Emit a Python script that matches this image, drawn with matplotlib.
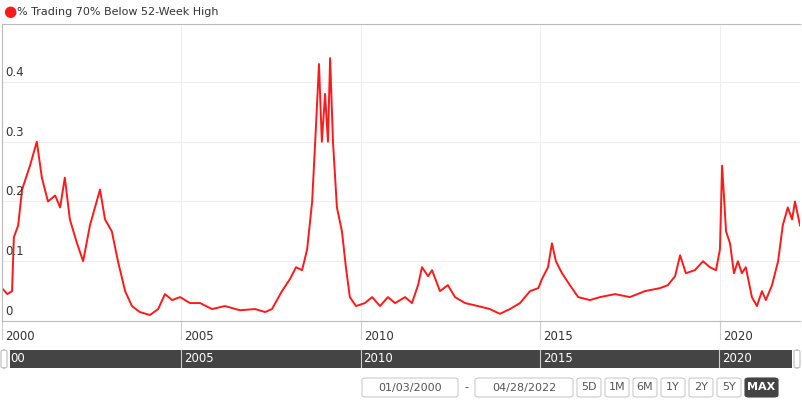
import matplotlib

matplotlib.use("Agg")
import matplotlib.pyplot as plt
from matplotlib.patches import FancyBboxPatch

W, H = 802, 401

# decimal year, share of stocks trading 70% below 52-week high
years = [
    2000.0, 2000.15, 2000.28, 2000.33, 2000.45, 2000.56, 2000.78, 2000.97, 2001.11, 2001.28,
    2001.48, 2001.62, 2001.75, 2001.89, 2002.09, 2002.26, 2002.45, 2002.73, 2002.87, 2003.06,
    2003.23, 2003.43, 2003.62, 2003.84, 2004.12, 2004.35, 2004.54, 2004.74, 2004.96, 2005.24,
    2005.52, 2005.85, 2006.21, 2006.63, 2007.05, 2007.33, 2007.52, 2007.80, 2008.02, 2008.19,
    2008.36, 2008.50, 2008.64, 2008.75, 2008.83, 2008.91, 2009.00, 2009.08, 2009.14, 2009.22,
    2009.33, 2009.47, 2009.58, 2009.69, 2009.86, 2010.11, 2010.31, 2010.53, 2010.75, 2010.95,
    2011.23, 2011.42, 2011.59, 2011.70, 2011.87, 2011.98, 2012.20, 2012.42, 2012.62, 2012.90,
    2013.26, 2013.59, 2013.87, 2014.15, 2014.43, 2014.71, 2014.94, 2015.04, 2015.21, 2015.32,
    2015.43, 2015.60, 2015.82, 2016.05, 2016.38, 2016.66, 2017.08, 2017.49, 2017.91, 2018.33,
    2018.55, 2018.75, 2018.89, 2019.05, 2019.30, 2019.53, 2019.72, 2019.89, 2020.00, 2020.06,
    2020.17, 2020.28, 2020.39, 2020.50, 2020.61, 2020.72, 2020.89, 2021.03, 2021.17, 2021.28,
    2021.45, 2021.62, 2021.75, 2021.89, 2022.01, 2022.09, 2022.23,
]
values = [
    0.055, 0.045, 0.05, 0.14, 0.16, 0.22, 0.26, 0.30, 0.24, 0.20,
    0.21, 0.19, 0.24, 0.17, 0.13, 0.10, 0.16, 0.22, 0.17, 0.15,
    0.10, 0.05, 0.025, 0.015, 0.01, 0.02, 0.045, 0.035, 0.04, 0.03,
    0.03, 0.02, 0.025, 0.018, 0.02, 0.015, 0.02, 0.05, 0.07, 0.09,
    0.085, 0.12, 0.20, 0.33, 0.43, 0.30, 0.38, 0.30, 0.44, 0.30,
    0.19, 0.15, 0.09, 0.04, 0.025, 0.03, 0.04, 0.025, 0.04, 0.03,
    0.04, 0.03, 0.06, 0.09, 0.075, 0.085, 0.05, 0.06, 0.04, 0.03,
    0.025, 0.02, 0.012, 0.02, 0.03, 0.05, 0.055, 0.07, 0.09, 0.13,
    0.10, 0.08, 0.06, 0.04, 0.035, 0.04, 0.045, 0.04, 0.05, 0.055,
    0.06, 0.075, 0.11, 0.08, 0.085, 0.10, 0.09, 0.085, 0.12, 0.26,
    0.15, 0.13, 0.08, 0.10, 0.08, 0.09, 0.04, 0.025, 0.05, 0.035,
    0.06, 0.10, 0.16, 0.19, 0.17, 0.20, 0.16,
]
tick_years = [2000, 2005, 2010, 2015, 2020]
y_ticks = [0, 0.1, 0.2, 0.3, 0.4]
buttons = ["5D", "1M", "6M", "1Y", "2Y", "5Y", "MAX"]

X0, X1 = 2000.0, 2022.23


def fx(px):
    return px / W


def fy(py):
    return 1 - py / H


fig = plt.figure(figsize=(W / 100, H / 100), dpi=100)

# main chart
ax = fig.add_axes([fx(2), fy(321), fx(798), (321 - 24) / H])
ax.plot(years, values, color="#ff1a1a", lw=1.4)
ax.set_xlim(X0, X1)
ax.set_ylim(0, 0.497)
for s in ["right"]:
    ax.spines[s].set_visible(False)
for s in ["top", "left", "bottom"]:
    ax.spines[s].set_color("#bbbbbb")
ax.set_yticks(y_ticks)
ax.set_yticklabels([])
ax.tick_params(left=False, bottom=False, labelbottom=False)
ax.set_xticks(tick_years)
ax.grid(True, color="#eeeeee", lw=0.8)
for t in y_ticks:
    ax.text(X0 + 0.08, t + 0.005, f"{t:g}", fontsize=8.5, color="#333333", va="bottom")
for t in tick_years:
    ax.axvline(t, ymin=-0.06, ymax=0, color="#cccccc", lw=0.8, clip_on=False)
    ax.text(t + 0.08, -0.015, str(t), fontsize=8.5, color="#333333", va="top", ha="left")

# legend
fig.text(fx(3), fy(12), "\u25cf", color="#ff1a1a", fontsize=11, va="center")
fig.text(fx(17), fy(12), "% Trading 70% Below 52-Week High", color="#333333", fontsize=8, va="center")

# navigator
nav = fig.add_axes([fx(10), fy(368), fx(782), 18 / H])
nav.set_xlim(2000.22, X1 - 0.2)
nav.set_ylim(0, 1)
nav.set_facecolor("#444444")
for s in nav.spines.values():
    s.set_visible(False)
nav.set_xticks([])
nav.set_yticks([])
for t in tick_years[1:]:
    nav.axvline(t, color="#cccccc", lw=0.8)
    nav.text(t + 0.08, 0.5, str(t), color="white", fontsize=8.5, va="center")
nav.text(2000.22, 0.5, "00", color="white", fontsize=8.5, va="center")
for px in (4, 797):
    fig.patches.append(FancyBboxPatch((fx(px - 3), fy(368)), fx(6), 18 / H, boxstyle="round,pad=0,rounding_size=0.004",
                                      transform=fig.transFigure, fc="white", ec="#bbbbbb", lw=0.8))

# date range inputs
for x, w, label in [(362, 96, "01/03/2000"), (475, 98, "04/28/2022")]:
    fig.patches.append(FancyBboxPatch((fx(x), fy(397)), fx(w), 19 / H, boxstyle="round,pad=0,rounding_size=0.005",
                                      transform=fig.transFigure, fc="white", ec="#cccccc", lw=0.8))
    fig.text(fx(x + w / 2), fy(387.5), label, ha="center", va="center", fontsize=8, color="#555555")
fig.text(fx(466), fy(387.5), "-", ha="center", va="center", fontsize=8, color="#333333")

bx = 577
for label in buttons:
    w = 33 if label == "MAX" else 24
    active = label == "MAX"
    fig.patches.append(FancyBboxPatch((fx(bx), fy(397)), fx(w), 19 / H, boxstyle="round,pad=0,rounding_size=0.005",
                                      transform=fig.transFigure, fc="#444444" if active else "white",
                                      ec="#444444" if active else "#cccccc", lw=0.8))
    fig.text(fx(bx + w / 2), fy(387.5), label, ha="center", va="center", fontsize=8,
             color="white" if active else "#555555", weight="bold" if active else "normal")
    bx += w + 4

fig.savefig("out.png", dpi=100)
